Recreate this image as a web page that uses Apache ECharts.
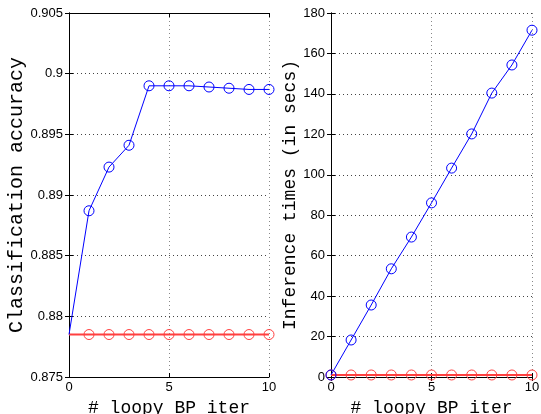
<!DOCTYPE html>
<html>
<head>
<meta charset="utf-8">
<script src="https://cdn.jsdelivr.net/npm/echarts@6/dist/echarts.min.js"></script>
<style>
  html, body { margin: 0; padding: 0; background: #fff; }
  #chart { width: 541px; height: 414px; }
</style>
</head>
<body>
<div id="chart"></div>
<script>
// loopy BP iterations
var iters = [0, 1, 2, 3, 4, 5, 6, 7, 8, 9, 10];

// left plot: classification accuracy
var accLoopy = [0.8785, 0.8887, 0.8923, 0.8941, 0.8990, 0.8990, 0.8990, 0.8989, 0.8988, 0.8987, 0.8987];
var accBase  = [0.8785, 0.8785, 0.8785, 0.8785, 0.8785, 0.8785, 0.8785, 0.8785, 0.8785, 0.8785, 0.8785];

// right plot: inference times (secs)
var timeLoopy = [1, 18.3, 35.6, 53.5, 69.2, 86.1, 103.3, 120.2, 140.4, 154.3, 171.5];
var timeBase  = [1, 1, 1, 1, 1, 1, 1, 1, 1, 1, 1];

var FONT_TICK = 'Liberation Sans';
var FONT_NAME = 'Liberation Mono';

function pairs(ys, hideFirst) {
  return iters.map(function (x, i) {
    var p = {value: [x, ys[i]]};
    if (hideFirst && i === 0) p.symbol = 'none';
    return p;
  });
}

function xAxes(gi) {
  return [{
    gridIndex: gi, type: 'value', min: 0, max: 10, interval: 5,
    name: '# loopy BP iter', nameLocation: 'middle', nameGap: 18,
    nameTextStyle: {fontFamily: FONT_NAME, fontSize: 18, color: '#000'},
    axisLine: {show: true, lineStyle: {color: '#000'}},
    axisTick: {inside: true, length: 4, lineStyle: {color: '#000'}},
    axisLabel: {fontFamily: FONT_TICK, fontSize: 13, color: '#000', margin: 4},
    splitLine: {show: true, lineStyle: {type: [1, 3], color: '#888'}}
  }, {
    gridIndex: gi, type: 'value', min: 0, max: 10, interval: 5, position: 'top',
    axisLine: {show: true, lineStyle: {color: '#000'}},
    axisTick: {inside: true, length: 4, lineStyle: {color: '#000'}},
    axisLabel: {show: false}, splitLine: {show: false}
  }];
}

function yAxes(gi, min, max, interval, name, gap, size, dec) {
  return [{
    gridIndex: gi, type: 'value', min: min, max: max, interval: interval,
    name: name, nameLocation: 'middle', nameGap: gap,
    nameTextStyle: {fontFamily: FONT_NAME, fontSize: size, color: '#000'},
    axisLine: {show: true, lineStyle: {color: '#000'}},
    axisTick: {inside: true, length: 4, lineStyle: {color: '#000'}},
    axisLabel: {fontFamily: FONT_TICK, fontSize: 13, color: '#000', margin: 6,
      formatter: function (v) { return dec ? String(+v.toFixed(3)) : String(v); }},
    splitLine: {show: true, lineStyle: {type: [1, 3], color: '#444'}}
  }, {
    gridIndex: gi, type: 'value', min: min, max: max, interval: interval, position: 'right',
    axisLine: {show: true, lineStyle: {color: '#000'}},
    axisTick: {inside: true, length: 4, lineStyle: {color: '#000'}},
    axisLabel: {show: false}, splitLine: {show: false}
  }];
}

function lineSeries(xi, yi, data, color, width) {
  return {
    type: 'line', xAxisIndex: xi, yAxisIndex: yi, data: data,
    symbol: 'circle', symbolSize: 10, showAllSymbol: true,
    lineStyle: {color: color, width: width},
    itemStyle: {color: 'rgba(0,0,0,0)', borderColor: color, borderWidth: 1},
    emphasis: {disabled: true}, animation: false, clip: false, z: 3
  };
}

var chart = echarts.init(document.getElementById('chart'), null, {renderer: 'canvas'});
var option = {
  backgroundColor: '#fff',
  animation: false,
  grid: [
    {left: 69, top: 13, width: 200, height: 364, outerBoundsMode: 'none', containLabel: false},
    {left: 331, top: 13, width: 201, height: 364, outerBoundsMode: 'none', containLabel: false}
  ],
  xAxis: xAxes(0).concat(xAxes(1)),
  yAxis: yAxes(0, 0.875, 0.905, 0.005, 'Classification accuracy', 40, 20, true)
    .concat(yAxes(1, 0, 180, 20, 'Inference times (in secs)', 31, 18, false)),
  series: [
    lineSeries(0, 0, pairs(accBase, true), '#ff4040', 2),
    lineSeries(0, 0, pairs(accLoopy, true), '#0000ff', 1),
    lineSeries(2, 2, pairs(timeBase, false), '#ff4040', 2),
    lineSeries(2, 2, pairs(timeLoopy, false), '#0000ff', 1)
  ]
};
chart.setOption(option);
</script>
</body>
</html>
